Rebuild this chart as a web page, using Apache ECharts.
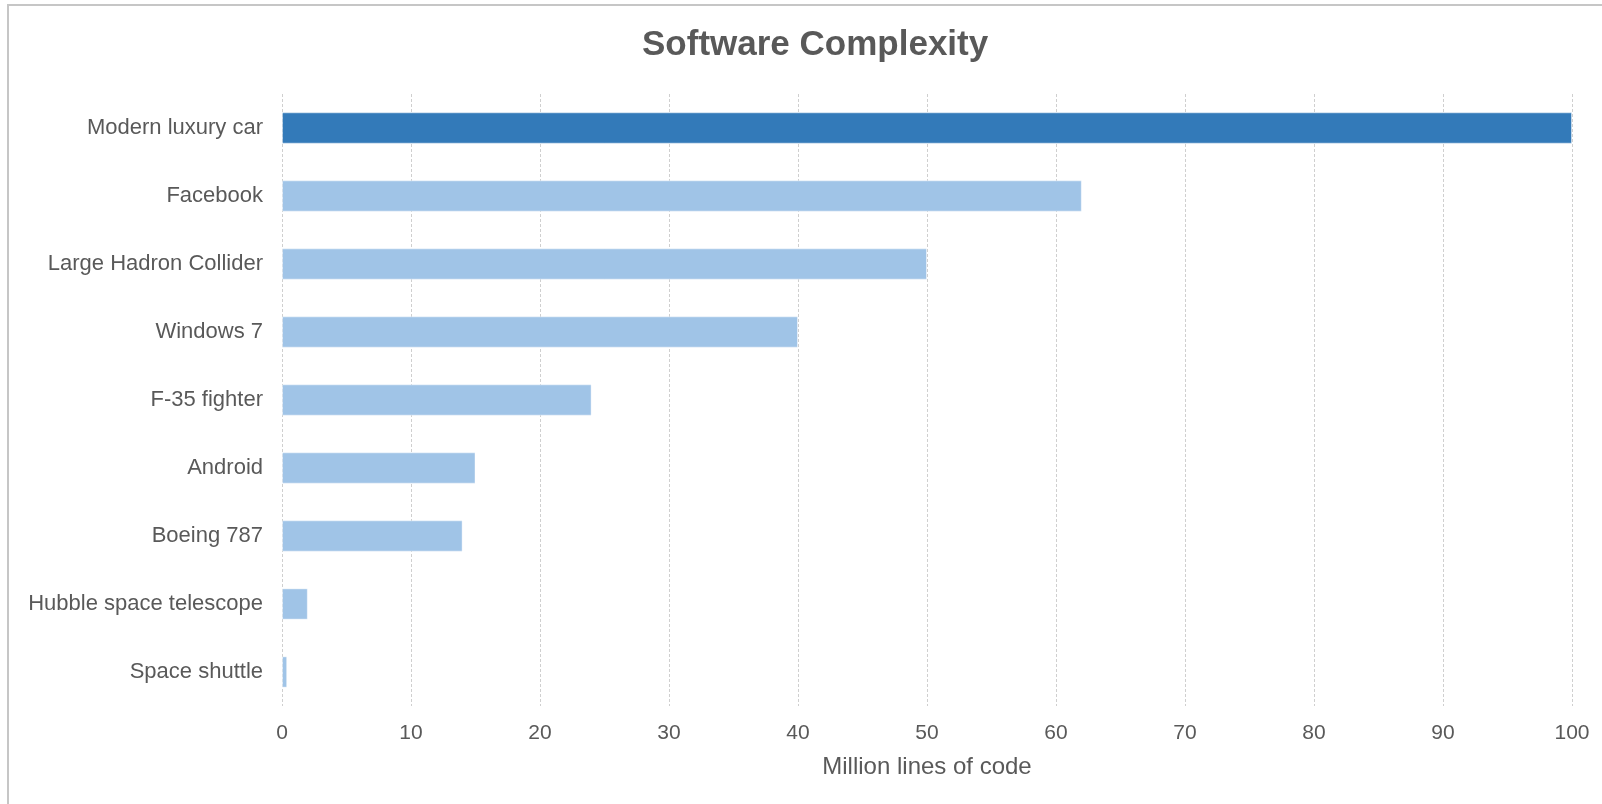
<!DOCTYPE html>
<html>
<head>
<meta charset="utf-8">
<script src="https://cdn.jsdelivr.net/npm/echarts@6/dist/echarts.min.js"></script>
<style>
html,body{margin:0;padding:0;background:#fff;}
#c{width:1602px;height:804px;}
</style>
</head>
<body>
<div id="c"></div>
<script>
const categories = ["Modern luxury car","Facebook","Large Hadron Collider","Windows 7","F-35 fighter","Android","Boeing 787","Hubble space telescope","Space shuttle"];
const values = [100, 62, 50, 40, 24, 15, 14, 2, 0.4];
const xTicks = [0,10,20,30,40,50,60,70,80,90,100];

const chart = echarts.init(document.getElementById('c'));
const font = '"Liberation Sans", Arial, sans-serif';
chart.setOption({
  animation: false,
  textStyle: {fontFamily: font},
  graphic: [{
    type: 'rect', silent: true,
    shape: {x: 8, y: 5, width: 1700, height: 900},
    style: {fill: 'none', stroke: '#c6c6c6', lineWidth: 2}
  }],
  title: {
    text: 'Software Complexity',
    left: 637, top: 23,
    textStyle: {fontFamily: font, fontSize: 35, fontWeight: 'bold', color: '#595959'}
  },
  grid: {left: 282, right: 30, top: 94, bottom: 98},
  xAxis: {
    type: 'value', min: 0, max: 100, interval: 10,
    name: 'Million lines of code', nameLocation: 'middle', nameGap: 49,
    nameTextStyle: {fontFamily: font, fontSize: 24, color: '#595959', verticalAlign: 'top'},
    axisLine: {show: false}, axisTick: {show: false},
    axisLabel: {fontFamily: font, fontSize: 21, color: '#595959', margin: 17,
      formatter: v => xTicks.includes(v) ? String(v) : ''},
    splitLine: {show: true, lineStyle: {color: '#cfcfcf', type: [3, 2], width: 1}}
  },
  yAxis: {
    type: 'category', data: categories, inverse: true,
    axisLine: {show: false}, axisTick: {show: false},
    axisLabel: {fontFamily: font, fontSize: 22, color: '#595959', margin: 19},
    splitLine: {show: false}
  },
  series: [{
    type: 'bar',
    data: values.map((v, i) => ({value: v, itemStyle: {color: i === 0 ? '#337ab9' : '#a0c4e7'}})),
    barWidth: '46%',
    itemStyle: {borderColor: 'rgba(255,255,255,0.4)', borderWidth: 1}
  }]
});
</script>
</body>
</html>
